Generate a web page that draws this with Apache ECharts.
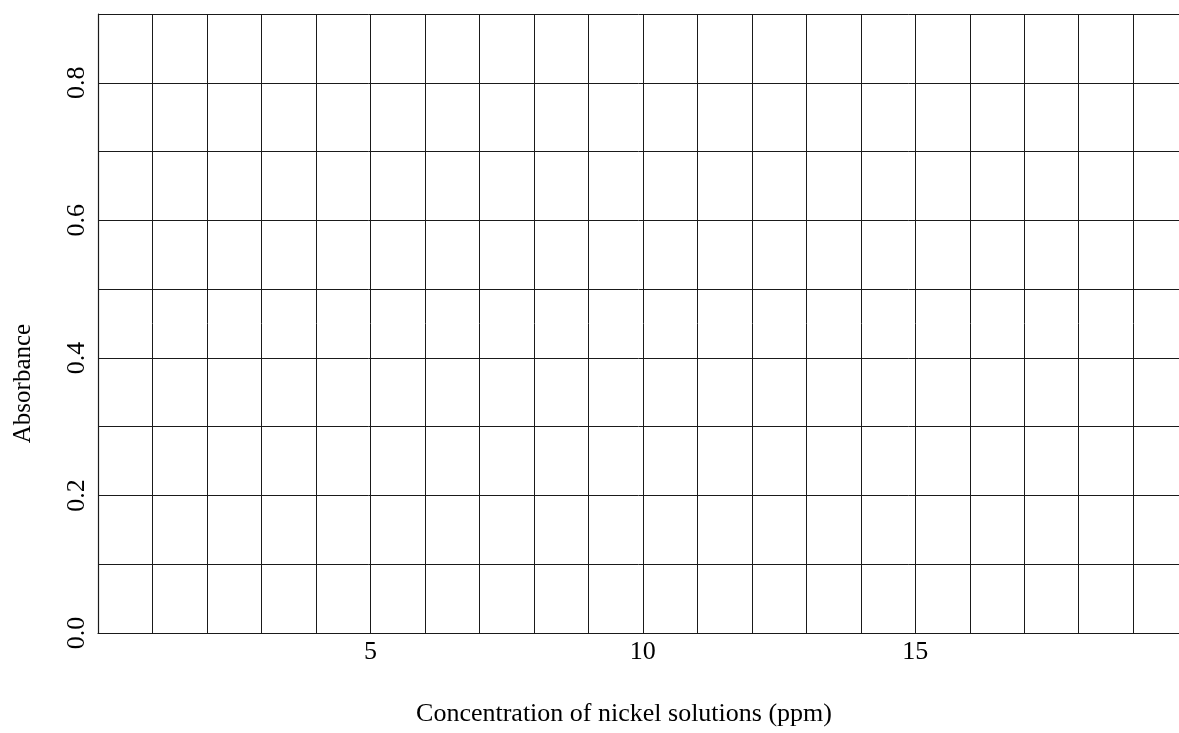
<!DOCTYPE html>
<html>
<head>
<meta charset="utf-8">
<script src="https://cdn.jsdelivr.net/npm/echarts@6/dist/echarts.min.js"></script>
<style>
  html, body { margin: 0; padding: 0; background: #fff; overflow: hidden; }
  #chart { width: 1179px; height: 733px; }
</style>
</head>
<body>
<div id="chart"></div>
<script>
// Blank calibration grid: concentration (ppm) against absorbance
const xTitle = 'Concentration of nickel solutions (ppm)';
const yTitle = 'Absorbance';
const xRange = [0, 19.84];       // ppm, grid runs to the page edge
const yRange = [0, 0.9];         // absorbance
const xLabelTicks = [5, 10, 15]; // labelled concentrations
const yLabelTicks = [0.0, 0.2, 0.4, 0.6, 0.8];
const xMinorStep = 1;
const yMinorStep = 0.1;
const readings = [];             // no points plotted yet

const serif = 'Liberation Serif, Times New Roman, serif';
const ink = '#1a1a1a';

const chart = echarts.init(document.getElementById('chart'), null, { renderer: 'canvas' });

chart.setOption({
  animation: false,
  backgroundColor: '#fff',
  grid: { left: 98, top: 14, right: 0, height: 619, containLabel: false },
  xAxis: {
    type: 'value',
    min: xRange[0],
    max: xRange[1],
    interval: xMinorStep,
    name: xTitle,
    nameLocation: 'middle',
    nameGap: 68,
    nameTextStyle: { fontFamily: serif, fontSize: 26, color: '#000', padding: [0, 29, 0, 0] },
    axisLine: { show: true, onZero: false, lineStyle: { color: ink, width: 1.2 } },
    axisTick: { show: false },
    axisLabel: {
      fontFamily: serif, fontSize: 26, color: '#000', margin: 6,
      showMaxLabel: false,
      formatter: v => (xLabelTicks.some(t => Math.abs(t - v) < 1e-9) ? String(v) : '')
    },
    splitLine: { show: true, lineStyle: { color: ink, width: 1 } }
  },
  yAxis: {
    type: 'value',
    min: yRange[0],
    max: yRange[1],
    interval: yMinorStep,
    name: yTitle,
    nameLocation: 'middle',
    nameRotate: 90,
    nameGap: 62,
    nameTextStyle: { fontFamily: serif, fontSize: 25, color: '#000', padding: [0, 120, 0, 0] },
    axisLine: { show: true, onZero: false, lineStyle: { color: ink, width: 1.2 } },
    axisTick: { show: false },
    axisLabel: {
      fontFamily: serif, fontSize: 26, color: '#000', rotate: 90, margin: 8,
      formatter: v => {
        const hit = yLabelTicks.find(t => Math.abs(t - v) < 1e-9);
        return hit === undefined ? '' : hit.toFixed(1);
      }
    },
    splitLine: { show: true, lineStyle: { color: ink, width: 1 } }
  },
  series: [{ type: 'scatter', data: readings, symbolSize: 8, itemStyle: { color: '#000' } }]
});
</script>
</body>
</html>
